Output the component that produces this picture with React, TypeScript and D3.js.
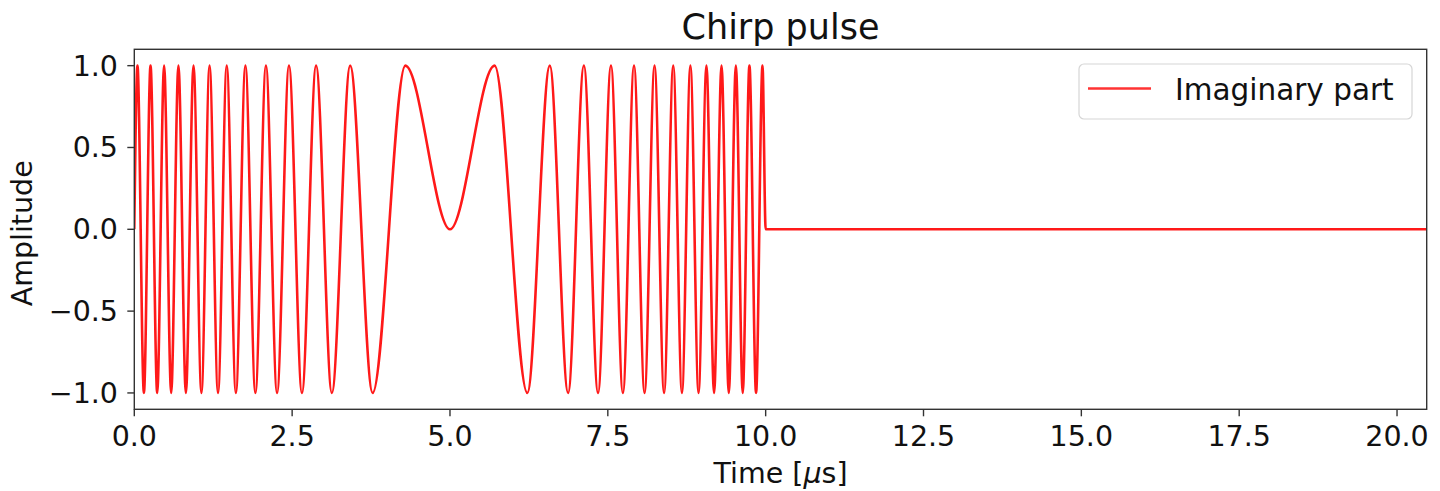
import React from "react";
import * as d3 from "d3";

// Extrema of the chirp pulse (time in µs, amplitude)
const pulseTime = [
  0, 0.05, 0.152, 0.257, 0.363, 0.472, 0.584, 0.699, 0.817, 0.938, 1.063, 1.192, 1.326, 1.464,
  1.609, 1.76, 1.918, 2.085, 2.261, 2.45, 2.655, 2.879, 3.129, 3.419, 3.775, 4.293, 5.0,
  5.707, 6.225, 6.581, 6.871, 7.121, 7.345, 7.55, 7.739, 7.915, 8.082, 8.24, 8.391, 8.536,
  8.674, 8.808, 8.937, 9.062, 9.183, 9.301, 9.416, 9.528, 9.637, 9.743, 9.848, 9.95, 10.0, 20.47,
];
const pulseAmplitude = [
  0, 1, -1, 1, -1, 1, -1, 1, -1, 1, -1, 1, -1, 1,
  -1, 1, -1, 1, -1, 1, -1, 1, -1, 1, -1, 1, 0,
  1, -1, 1, -1, 1, -1, 1, -1, 1, -1, 1, -1, 1,
  -1, 1, -1, 1, -1, 1, -1, 1, -1, 1, -1, 1, 0, 0,
];
const xTicks = [0, 2.5, 5, 7.5, 10, 12.5, 15, 17.5, 20];
const yTicks = [-1, -0.5, 0, 0.5, 1];
const xDomain = [0, 20.47];
const yDomain = [-1.1, 1.1];
const titleText = "Chirp pulse";
const seriesName = "Imaginary part";

const W = 1440;
const H = 491;
const left = 134.3;
const right = 1426.7;
const top = 49.3;
const bottom = 409.3;
const FONT = "'DejaVu Sans', sans-serif";

export default function App() {
  const x = d3.scaleLinear().domain(xDomain).range([left, right]);
  const y = d3.scaleLinear().domain(yDomain).range([bottom, top]);
  const pts = pulseTime.map((t, i) => [t, pulseAmplitude[i]] as [number, number]);
  const line = d3
    .line<[number, number]>()
    .x((d) => x(d[0]))
    .y((d) => y(d[1]))
    .curve(d3.curveMonotoneX);
  const fmt = d3.format(".1f");
  const red = "#ff0000";

  return (
    <svg
      width={W}
      height={H}
      style={{ position: "absolute", left: 0, top: 0, display: "block", background: "#fff" }}
      fontFamily={FONT}
    >
      <defs>
        <clipPath id="plotclip">
          <rect x={left} y={top} width={right - left} height={bottom - top} />
        </clipPath>
      </defs>
      <rect x={0} y={0} width={W} height={H} fill="#fff" />
      <path
        d={line(pts) || ""}
        fill="none"
        stroke={red}
        strokeOpacity={0.9}
        strokeWidth={2.6}
        strokeLinejoin="round"
        clipPath="url(#plotclip)"
      />
      {/* frame */}
      <rect x={left} y={top} width={right - left} height={bottom - top} fill="none" stroke="#333" strokeWidth={1.4} />
      {/* x ticks */}
      {xTicks.map((t) => (
        <g key={"x" + t}>
          <line x1={x(t)} x2={x(t)} y1={bottom} y2={bottom + 7} stroke="#333" strokeWidth={1.4} />
          <text x={x(t)} y={446} textAnchor="middle" fontSize={28.5} fill="#111">
            {fmt(t)}
          </text>
        </g>
      ))}
      {/* y ticks */}
      {yTicks.map((t) => (
        <g key={"y" + t}>
          <line x1={left - 7} x2={left} y1={y(t)} y2={y(t)} stroke="#333" strokeWidth={1.4} />
          <text x={118} y={y(t) + 10} textAnchor="end" fontSize={28.5} fill="#111">
            {fmt(t)}
          </text>
        </g>
      ))}
      {/* title */}
      <text x={(left + right) / 2} y={39} textAnchor="middle" fontSize={35} fill="#111">
        {titleText}
      </text>
      {/* x label */}
      <text x={(left + right) / 2} y={483} textAnchor="middle" fontSize={28.5} fill="#111">
        Time [<tspan fontStyle="italic">μ</tspan>s]
      </text>
      {/* y label */}
      <text
        transform={`translate(32, ${(top + bottom) / 2 + 4}) rotate(-90)`}
        textAnchor="middle"
        fontSize={28.5}
        fill="#111"
      >
        Amplitude
      </text>
      {/* legend */}
      <rect x={1079} y={64} width={333} height={55} rx={5} fill="#fff" fillOpacity={0.8} stroke="#d6d6d6" strokeWidth={1.2} />
      <line x1={1088} x2={1151} y1={88.5} y2={88.5} stroke={red} strokeOpacity={0.8} strokeWidth={2.6} />
      <text x={1175} y={100} fontSize={29.5} fill="#111">
        {seriesName}
      </text>
    </svg>
  );
}
